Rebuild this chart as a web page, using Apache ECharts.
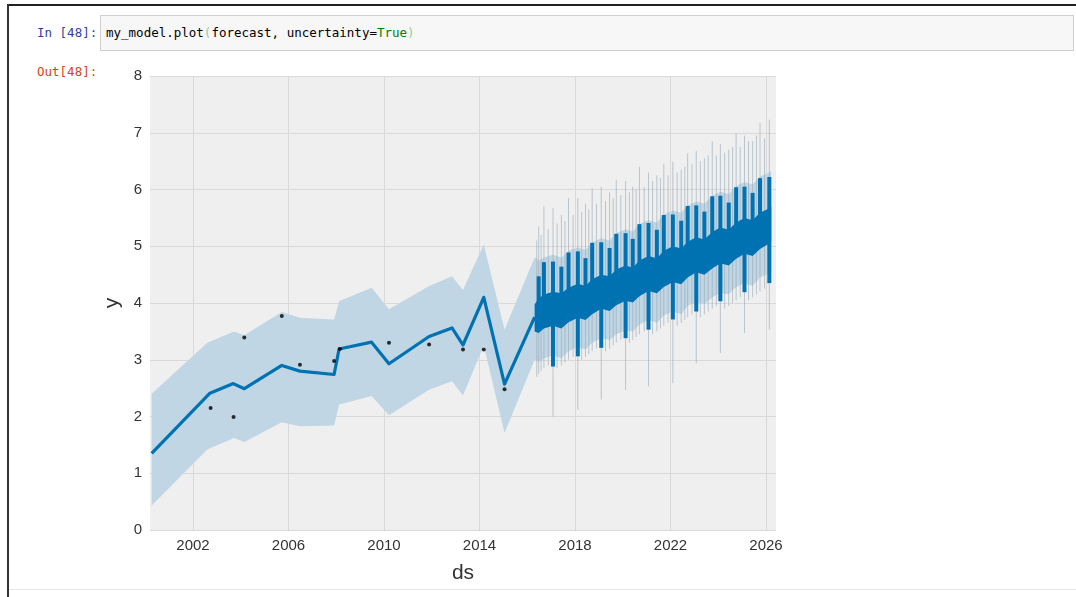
<!DOCTYPE html>
<html>
<head>
<meta charset="utf-8">
<script src="https://cdn.jsdelivr.net/npm/echarts@6/dist/echarts.min.js"></script>
<style>
  html, body { margin:0; padding:0; background:#fff; width:1076px; height:597px; overflow:hidden; }
  #frameTop { position:absolute; left:8px; top:4px; width:1068px; height:2px; background:#222; }
  #frameLeft { position:absolute; left:7px; top:4px; width:2px; height:593px; background:#333; }
  #frameBottom { position:absolute; left:9px; top:589px; width:1067px; height:1px; background:#e6e6e6; }
  #codeBox { position:absolute; left:100px; top:15px; width:974px; height:36px; background:#f7f7f7; border:1px solid #cfcfcf; box-sizing:border-box; }
  .prompt { position:absolute; font-family:'DejaVu Sans Mono', monospace; font-size:12.5px; line-height:14px; }
  #inP { left:37px; top:26px; color:#303F9F; }
  #outP { left:37px; top:65px; color:#D84315; }
  #code { left:106px; top:26px; color:#000; }
  #code .kw { color:#008000; }
  #code .br { color:#9cc79c; }
  #chart { position:absolute; left:0; top:0; width:1076px; height:597px; }
</style>
</head>
<body>
<div id="frameTop"></div>
<div id="frameLeft"></div>
<div id="frameBottom"></div>
<div id="codeBox"></div>
<div class="prompt" id="inP">In [48]:</div>
<div class="prompt" id="code">my_model.plot<span class="br">(</span>forecast, uncertainty=<span class="kw">True</span><span class="br">)</span></div>
<div class="prompt" id="outP">Out[48]:</div>
<div id="chart"></div>
<script>
// ---------- data ----------
// x tick labels (years) and y tick labels
const xTicks = [2002, 2006, 2010, 2014, 2018, 2022, 2026];
const yTicks = [0, 1, 2, 3, 4, 5, 6, 7, 8];

// observed points (black dots)
const obsDates  = [2002.74, 2003.70, 2004.15, 2005.72, 2006.48, 2007.91, 2008.15, 2010.21, 2011.89, 2013.31, 2014.18, 2015.05];
const obsValues = [2.15, 1.99, 3.39, 3.77, 2.91, 2.98, 3.19, 3.30, 3.27, 3.18, 3.18, 2.48];

// fitted line over history
const histDates = [2000.27, 2002.71, 2003.69, 2004.15, 2005.72, 2006.48, 2007.91, 2008.12, 2009.48, 2010.21, 2011.89, 2012.85, 2013.31, 2014.18, 2015.05, 2016.31];
const histYhat  = [1.35, 2.41, 2.58, 2.49, 2.90, 2.80, 2.74, 3.19, 3.31, 2.93, 3.41, 3.56, 3.26, 4.10, 2.57, 3.75];

// uncertainty band (history + forecast)
const bandDates = [2000.27, 2002.6, 2003.72, 2004.15, 2005.72, 2006.48, 2007.91, 2008.12, 2009.48, 2010.21, 2011.89, 2012.85, 2013.31, 2014.18, 2015.05, 2016.31,
  2016.33, 2016.48, 2016.70, 2017.08, 2017.43, 2017.73, 2018.12, 2018.44, 2018.72, 2019.10, 2019.45, 2019.73, 2020.12, 2020.42, 2020.70, 2021.08,
  2021.43, 2021.72, 2022.10, 2022.45, 2022.72, 2023.08, 2023.42, 2023.75, 2024.09, 2024.44, 2024.75, 2025.10, 2025.44, 2025.75, 2026.14, 2026.22];
const bandLower = [0.43, 1.42, 1.62, 1.55, 1.90, 1.83, 1.84, 2.21, 2.36, 2.02, 2.47, 2.62, 2.37, 3.25, 1.71, 3.00,
  3.0, 2.95, 3.02, 3.08, 3.02, 3.15, 3.22, 3.18, 3.3, 3.38, 3.35, 3.45, 3.52, 3.5, 3.62, 3.7,
  3.65, 3.78, 3.85, 3.8, 3.95, 4.02, 3.98, 4.1, 4.18, 4.15, 4.28, 4.35, 4.3, 4.45, 4.52, 4.55];
const bandUpper = [2.40, 3.30, 3.50, 3.43, 3.84, 3.74, 3.71, 4.03, 4.27, 3.89, 4.30, 4.47, 4.23, 5.03, 3.53, 4.80,
  4.8, 4.75, 4.8, 4.85, 4.8, 4.92, 4.98, 4.94, 5.07, 5.14, 5.1, 5.23, 5.3, 5.26, 5.39, 5.46,
  5.42, 5.56, 5.63, 5.59, 5.72, 5.79, 5.75, 5.89, 5.96, 5.92, 6.06, 6.13, 6.09, 6.23, 6.3, 6.32];

// forecast core (thick dark body of the daily forecast line)
const coreDates = [2016.31, 2016.48, 2016.70, 2017.08, 2017.43, 2017.73, 2018.12, 2018.44, 2018.72, 2019.10, 2019.45, 2019.73, 2020.12, 2020.42, 2020.70, 2021.08,
  2021.43, 2021.72, 2022.10, 2022.45, 2022.72, 2023.08, 2023.42, 2023.75, 2024.09, 2024.44, 2024.75, 2025.10, 2025.44, 2025.75, 2026.14, 2026.22];
const coreLow  = [3.50, 3.47, 3.55, 3.60, 3.55, 3.66, 3.74, 3.70, 3.80, 3.90, 3.86, 3.96, 4.04, 4.01, 4.12, 4.21,
  4.17, 4.28, 4.37, 4.33, 4.45, 4.54, 4.50, 4.61, 4.70, 4.66, 4.78, 4.87, 4.83, 4.95, 5.05, 5.08];
const coreHigh = [3.98, 4.08, 4.15, 4.20, 4.17, 4.27, 4.34, 4.30, 4.42, 4.50, 4.47, 4.59, 4.66, 4.62, 4.75, 4.83,
  4.79, 4.92, 5.00, 4.96, 5.08, 5.16, 5.12, 5.25, 5.33, 5.29, 5.42, 5.50, 5.46, 5.59, 5.67, 5.70];

// seasonal / holiday spikes of the forecast line
const spikeDates = [2016.48, 2016.70, 2017.08, 2017.43, 2017.73, 2018.12, 2018.44, 2018.72, 2019.10, 2019.45, 2019.73, 2020.12, 2020.42, 2020.70, 2021.08,
  2021.43, 2021.72, 2022.10, 2022.45, 2022.72, 2023.08, 2023.42, 2023.75, 2024.09, 2024.44, 2024.75, 2025.10, 2025.44, 2025.75, 2026.14];
const spikeTop = [4.47, 4.72, 4.73, 4.64, 4.89, 4.91, 4.79, 5.06, 5.07, 4.97, 5.22, 5.23, 5.13, 5.39, 5.41,
  5.29, 5.55, 5.56, 5.45, 5.71, 5.72, 5.61, 5.88, 5.89, 5.77, 6.04, 6.05, 5.94, 6.20, 6.22];
const spikeLow = [3.75, 3.85, 2.88, 3.85, 3.95, 3.06, 4.0, 4.1, 3.21, 4.15, 4.27, 3.38, 4.3, 4.45, 3.53,
  4.45, 4.6, 3.71, 4.6, 4.77, 3.85, 4.8, 4.94, 4.03, 4.95, 5.1, 4.19, 5.1, 5.28, 4.35];

// thin uncertainty streaks in the forecast
const uncDates = [2016.40, 2016.48, 2016.58, 2016.70, 2016.88, 2017.08, 2017.25, 2017.43, 2017.58, 2017.73, 2017.92, 2018.12, 2018.28, 2018.44, 2018.58,
  2018.72, 2018.90, 2019.10, 2019.28, 2019.45, 2019.60, 2019.73, 2019.92, 2020.12, 2020.28, 2020.42, 2020.56, 2020.70, 2020.90, 2021.08,
  2021.25, 2021.43, 2021.58, 2021.72, 2021.90, 2022.10, 2022.28, 2022.45, 2022.60, 2022.72, 2022.90, 2023.08, 2023.25, 2023.42, 2023.58,
  2023.75, 2023.92, 2024.09, 2024.27, 2024.44, 2024.60, 2024.75, 2024.92, 2025.10, 2025.27, 2025.44, 2025.60, 2025.75, 2025.94, 2026.14];
const uncTop = [5.1, 5.35, 5.2, 5.7, 5.3, 5.67, 5.4, 5.55, 5.45, 5.85, 5.55, 5.85, 5.6, 5.75, 5.65,
  6.02, 5.75, 6.05, 5.8, 5.95, 5.85, 6.17, 5.9, 6.15, 5.95, 6.05, 6.0, 6.4, 6.05, 6.3,
  6.15, 6.25, 6.2, 6.45, 6.25, 6.49, 6.3, 6.35, 6.4, 6.64, 6.45, 6.68, 6.5, 6.55, 6.6,
  6.85, 6.6, 6.8, 6.65, 6.7, 6.75, 6.99, 6.75, 6.95, 6.85, 6.85, 6.95, 7.17, 6.9, 7.23];
const uncBottom = [2.7, 2.75, 2.8, 2.85, 2.9, 2.0, 2.85, 2.9, 2.95, 3.0, 3.05, 2.12, 3.0, 3.05, 3.1,
  3.15, 3.2, 2.3, 3.15, 3.2, 3.25, 3.3, 3.35, 2.47, 3.3, 3.35, 3.4, 3.45, 3.5, 2.53,
  3.45, 3.5, 3.55, 3.6, 3.65, 2.59, 3.6, 3.65, 3.7, 3.75, 3.8, 2.94, 3.75, 3.8, 3.85,
  3.9, 3.95, 3.12, 3.9, 3.95, 4.0, 4.05, 4.1, 3.47, 4.05, 4.1, 4.15, 4.2, 4.25, 3.53];

// ---------- chart ----------
const BLUE = '#0072B2';
const BAND = '#c0d6e4';
const FONT = "'Liberation Sans', Arial, sans-serif";

const chart = echarts.init(document.getElementById('chart'), null, { renderer: 'canvas' });

function polygonSeries(dates, lows, highs, color, z) {
  return {
    type: 'custom', coordinateSystem: 'cartesian2d', silent: true, z: z, clip: true,
    data: dates.map((d, i) => [d, lows[i], highs[i]]),
    renderItem: function (params, api) {
      if (params.dataIndex !== 0) return;
      const pts = [];
      for (let i = 0; i < dates.length; i++) pts.push(api.coord([dates[i], highs[i]]));
      for (let i = dates.length - 1; i >= 0; i--) pts.push(api.coord([dates[i], lows[i]]));
      return { type: 'polygon', shape: { points: pts }, style: { fill: color, stroke: null } };
    }
  };
}

function segmentSeries(dates, lows, highs, color, width, z) {
  return {
    type: 'custom', coordinateSystem: 'cartesian2d', silent: true, z: z, clip: true,
    data: dates.map((d, i) => [d, lows[i], highs[i]]),
    renderItem: function (params, api) {
      const a = api.coord([api.value(0), api.value(1)]);
      const b = api.coord([api.value(0), api.value(2)]);
      return {
        type: 'line',
        shape: { x1: a[0], y1: a[1], x2: b[0], y2: b[1] },
        style: { stroke: color, lineWidth: width, lineCap: 'butt' }
      };
    }
  };
}

chart.setOption({
  animation: false,
  grid: { left: 150, right: 300, top: 76, bottom: 67, show: true, backgroundColor: '#efefef', borderWidth: 0 },
  xAxis: {
    type: 'value', min: 2000.2, max: 2026.42,
    name: 'ds', nameLocation: 'middle', nameGap: 33,
    nameTextStyle: { fontFamily: FONT, fontSize: 21, color: '#333' },
    axisLine: { show: false },
    axisTick: { show: false, customValues: xTicks },
    axisLabel: { customValues: xTicks, fontFamily: FONT, fontSize: 15, color: '#333', margin: 8,
      formatter: v => String(v) },
    splitLine: { show: true, lineStyle: { color: '#d9d9d9', width: 1 } }
  },
  yAxis: {
    type: 'value', min: 0, max: 8, interval: 1,
    name: 'y', nameLocation: 'middle', nameGap: 22, nameRotate: 90,
    nameTextStyle: { fontFamily: FONT, fontSize: 21, color: '#333' },
    axisLine: { show: false }, axisTick: { show: false },
    axisLabel: { fontFamily: FONT, fontSize: 15, color: '#333', margin: 8,
      formatter: v => (yTicks.indexOf(v) >= 0 ? String(v) : '') },
    splitLine: { show: true, lineStyle: { color: '#d9d9d9', width: 1 } }
  },
  series: [
    polygonSeries(bandDates, bandLower, bandUpper, BAND, 1),
    segmentSeries(uncDates, uncBottom, uncTop, 'rgba(150,168,182,0.6)', 1, 2),
    polygonSeries(coreDates, coreLow, coreHigh, BLUE, 3),
    segmentSeries(spikeDates, spikeLow, spikeTop, BLUE, 4, 4),
    {
      type: 'line', z: 5, silent: true, symbol: 'none',
      data: histDates.map((d, i) => [d, histYhat[i]]),
      lineStyle: { color: BLUE, width: 3.2, join: 'round' }
    },
    {
      type: 'scatter', z: 6, silent: true, symbolSize: 4,
      data: obsDates.map((d, i) => [d, obsValues[i]]),
      itemStyle: { color: '#000' }
    }
  ]
});
</script>
</body>
</html>
